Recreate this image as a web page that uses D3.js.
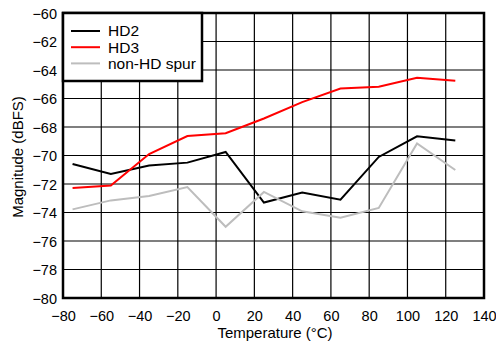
<!DOCTYPE html>
<html><head><meta charset="utf-8">
<script src="https://cdn.jsdelivr.net/npm/d3@7"></script>
<style>body{margin:0;background:#fff}svg{display:block}text{font-family:"Liberation Sans",Arial,sans-serif}</style>
</head><body><svg id="c" width="496" height="344"></svg>
<script>
const temps = [-75,-55,-35,-15,5,25,45,65,85,105,125];
const hd2 = [-70.6,-71.3,-70.7,-70.5,-69.75,-73.3,-72.6,-73.1,-70.1,-68.65,-68.95];
const hd3 = [-72.28,-72.1,-69.9,-68.63,-68.44,-67.4,-66.25,-65.3,-65.17,-64.54,-64.75];
const spur = [-73.78,-73.15,-72.84,-72.21,-75.0,-72.56,-73.92,-74.36,-73.68,-69.15,-71.02];
const xTicks = [-80,-60,-40,-20,0,20,40,60,80,100,120,140];
const yTicks = [-80,-78,-76,-74,-72,-70,-68,-66,-64,-62,-60];
const seriesNames = ["HD2","HD3","non-HD spur"];
const seriesColors = ["#000000","#ff0000","#bdbdbd"];

const svg = d3.select("#c");
const L=63, R=484, T=13, B=298;
const x = d3.scaleLinear().domain([-80,140]).range([L,R]);
const y = d3.scaleLinear().domain([-80,-60]).range([B,T]);

const g = svg.append("g");
g.selectAll(".vg").data(xTicks).enter().append("line")
  .attr("x1",d=>x(d)).attr("x2",d=>x(d)).attr("y1",T).attr("y2",B)
  .attr("stroke","#000").attr("stroke-width",1.2);
g.selectAll(".hg").data(yTicks).enter().append("line")
  .attr("y1",d=>y(d)).attr("y2",d=>y(d)).attr("x1",L).attr("x2",R)
  .attr("stroke","#000").attr("stroke-width",1.2);

const xAxis = d3.axisBottom(x).tickValues(xTicks).tickSize(0).tickPadding(0).tickFormat(d3.format("d"));
const xa = svg.append("g").attr("transform",`translate(0,${B})`).call(xAxis);
xa.select(".domain").remove();
xa.selectAll("text").attr("dy",null).attr("y",23).attr("font-size",14.5).attr("fill","#000")
  .style("font-family",'"Liberation Sans",Arial,sans-serif');
const yAxis = d3.axisLeft(y).tickValues(yTicks).tickSize(0).tickPadding(0).tickFormat(d3.format("d"));
const ya = svg.append("g").attr("transform",`translate(${L},0)`).call(yAxis);
ya.select(".domain").remove();
ya.selectAll("text").attr("x",-6).attr("dy","0.35em").attr("font-size",14.5).attr("fill","#000")
  .style("font-family",'"Liberation Sans",Arial,sans-serif');

const data = [hd2,hd3,spur];
const line = d3.line().x((d,i)=>x(temps[i])).y(d=>y(d));
data.forEach((s,k)=>{
  svg.append("path").datum(s).attr("d",line).attr("fill","none")
    .attr("stroke",seriesColors[k]).attr("stroke-width",2).attr("stroke-linejoin","miter");
});

svg.append("rect").attr("x",L).attr("y",T).attr("width",R-L).attr("height",B-T)
  .attr("fill","none").attr("stroke","#000").attr("stroke-width",2.5);

const lg = svg.append("g");
lg.append("rect").attr("x",L).attr("y",T).attr("width",139).attr("height",68)
  .attr("fill","#fff").attr("stroke","#000").attr("stroke-width",2.5);
seriesNames.forEach((n,k)=>{
  const yy = 31 + k*16.2;
  lg.append("line").attr("x1",71).attr("x2",100).attr("y1",yy).attr("y2",yy)
    .attr("stroke",seriesColors[k]).attr("stroke-width",2);
  lg.append("text").attr("x",108).attr("y",yy).attr("dy","0.35em").attr("font-size",15.5).text(n);
});

svg.append("text").attr("x",275).attr("y",337.5).attr("text-anchor","middle").attr("font-size",15).text("Temperature (°C)");
svg.append("text").attr("transform",`translate(23,157) rotate(-90)`).attr("text-anchor","middle").attr("font-size",15).text("Magnitude (dBFS)");
</script></body></html>
